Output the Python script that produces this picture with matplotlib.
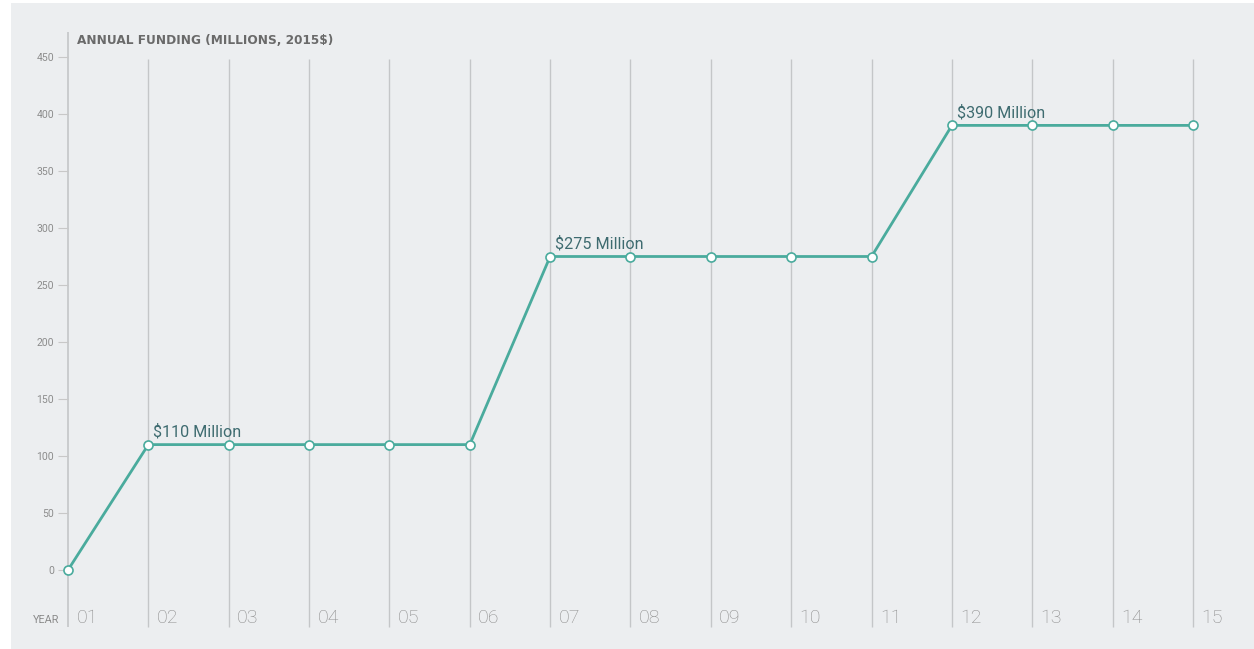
import matplotlib.pyplot as plt
from matplotlib.patches import Rectangle

years = ["01", "02", "03", "04", "05", "06", "07", "08", "09", "10", "11", "12", "13", "14", "15"]
funding = [0, 110, 110, 110, 110, 110, 275, 275, 275, 275, 275, 390, 390, 390, 390]
callouts = {1: "$110 Million", 6: "$275 Million", 11: "$390 Million"}
yticks = [0, 50, 100, 150, 200, 250, 300, 350, 400, 450]

W, H = 1254, 649
fig = plt.figure(figsize=(W / 100, H / 100), dpi=100, facecolor="white")

# light grey panel behind the chart
fig.patches.append(Rectangle((11 / W, 0), 1, (H - 3) / H, transform=fig.transFigure,
                             facecolor="#eceef0", edgecolor="none", zorder=-5))

ax = fig.add_axes([68 / W, (H - 570) / H, (1193 - 68) / W, (570 - 57) / H])
ax.set_zorder(2)
ax.set_facecolor("none")
xs = list(range(1, len(years) + 1))
ax.set_xlim(1, 15)
ax.set_ylim(0, 450)
for s in ax.spines.values():
    s.set_visible(False)

# vertical year lines
grid = "#c4c6c8"
ax.vlines(xs[1:], -50, 448, color=grid, lw=1, clip_on=False, zorder=1)
ax.vlines(xs[0], -50, 472, color=grid, lw=1.2, clip_on=False, zorder=1)

ax.set_xticks([])
ax.set_yticks(yticks)
ax.tick_params(axis="y", length=7, width=0.8, color="#c8c8c8", pad=3,
               labelsize=7.5, labelcolor="#8c8c8c")
for lab in ax.get_yticklabels():
    lab.set_family("Roboto")

for x, y in zip(xs, years):
    ax.annotate(y, (x, 0), xytext=(6, -38.5), textcoords="offset points",
                ha="left", va="baseline", fontsize=14, color="#8c8c8c",
                family="Roboto", fontweight="light", annotation_clip=False)
ax.annotate("YEAR", (1, 0), xytext=(-6.5, -38.5), textcoords="offset points",
            ha="right", va="baseline", fontsize=7.8, color="#8a8a8a",
            family="Roboto", annotation_clip=False)

ax.text(77 / W, (H - 40) / H, "ANNUAL FUNDING (MILLIONS, 2015$)", transform=fig.transFigure,
        ha="left", va="center", fontsize=8.7, fontweight="bold", color="#6a6a6a",
        family="DejaVu Sans")

teal = "#4aab9d"
ax.plot(xs, funding, color=teal, lw=2, marker="o", ms=6.5, mfc="white",
        mec=teal, mew=1.2, clip_on=False, zorder=3)

for i, txt in callouts.items():
    ax.annotate(txt, (xs[i], funding[i]), xytext=(3.6, 6), textcoords="offset points",
                ha="left", va="baseline", fontsize=11.6, color="#3e6b70", family="Roboto")

fig.savefig("out.png", dpi=100, facecolor="white")
